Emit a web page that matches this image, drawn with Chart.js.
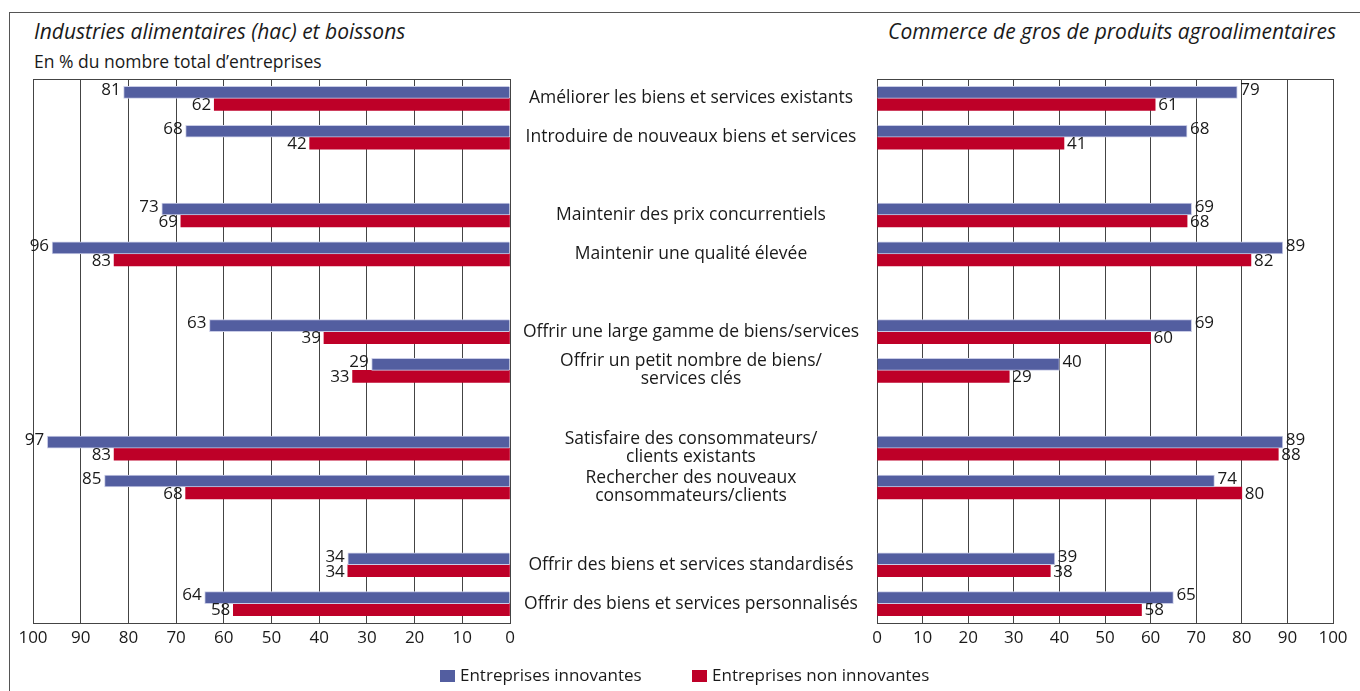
<!DOCTYPE html>
<html>
<head>
<meta charset="utf-8">
<script src="https://cdn.jsdelivr.net/npm/chart.js@4.4.0/dist/chart.umd.min.js"></script>
<style>
  body { margin: 0; width: 1360px; height: 691px; overflow: hidden; background: #fff;
         font-family: "Open Sans", sans-serif; color: #1a1a1a; position: relative; }
  #frame { position: absolute; left: 9px; top: 12px; width: 1400px; height: 700px;
           border-left: 1.5px solid #555; border-top: 1.5px solid #555; }
  .titre { position: absolute; font-style: italic; font-size: 21px; top: 17px; white-space: nowrap; }
  #titreG { left: 34px; }
  #titreD { right: 24px; }
  #unite { position: absolute; left: 34px; top: 49px; font-size: 17.5px; }
  #g, #d { position: absolute; top: 0; height: 691px; }
  #g { left: 0; width: 877px; }
  #d { left: 857px; width: 503px; }
  #legende { position: absolute; top: 663px; left: 440px; font-size: 17px; white-space: nowrap; }
  #legende span.c { display: inline-block; width: 15px; height: 12px; margin-right: 5px; vertical-align: -1px; }
</style>
</head>
<body>
<div id="frame"></div>
<div class="titre" id="titreG">Industries alimentaires (hac) et boissons</div>
<div class="titre" id="titreD">Commerce de gros de produits agroalimentaires</div>
<div id="unite">En % du nombre total d’entreprises</div>
<div id="g"><canvas id="chartG"></canvas></div>
<div id="d"><canvas id="chartD"></canvas></div>
<div id="legende">
  <span class="c" style="background:#535ea0"></span>Entreprises innovantes
  <span class="c" style="background:#be0028;margin-left:46px"></span>Entreprises non innovantes
</div>
<script>
// categories (pairs are separated by an empty slot)
const categories = [
  "Améliorer les biens et services existants",
  "Introduire de nouveaux biens et services",
  "Maintenir des prix concurrentiels",
  "Maintenir une qualité élevée",
  "Offrir une large gamme de biens/services",
  ["Offrir un petit nombre de biens/", "services clés"],
  ["Satisfaire des consommateurs/", "clients existants"],
  ["Rechercher des nouveaux", "consommateurs/clients"],
  "Offrir des biens et services standardisés",
  "Offrir des biens et services personnalisés"
];

const seriesNames = ["Entreprises innovantes", "Entreprises non innovantes"];

// Industries alimentaires (hac) et boissons
const iaaInnovantes    = [81, 68, 73, 96, 63, 29, 97, 85, 34, 64];
const iaaNonInnovantes = [62, 42, 69, 83, 39, 33, 83, 68, 34, 58];

// Commerce de gros de produits agroalimentaires
const cgInnovantes    = [79, 68, 69, 89, 69, 40, 89, 74, 39, 65];
const cgNonInnovantes = [61, 41, 68, 82, 60, 29, 88, 80, 38, 58];

const xTicks = [0, 10, 20, 30, 40, 50, 60, 70, 80, 90, 100];

const BLEU = "#535ea0";
const ROUGE = "#be0028";
const GRILLE = "#444";

Chart.defaults.font.family = '"Open Sans", sans-serif';
Chart.defaults.color = "#1a1a1a";

// insert an empty slot after every pair
function avecEspaces(arr, vide) {
  const out = [];
  arr.forEach((v, i) => {
    out.push(v);
    if (i % 2 === 1 && i < arr.length - 1) out.push(vide);
  });
  return out;
}

const slots = avecEspaces(categories, "");

// value labels at the end of each bar
const etiquettes = {
  id: "etiquettes",
  afterDatasetsDraw(chart, args, opts) {
    const ctx = chart.ctx;
    ctx.save();
    ctx.font = '17px "Open Sans", sans-serif';
    ctx.fillStyle = "#1a1a1a";
    ctx.textBaseline = "middle";
    chart.data.datasets.forEach((ds, di) => {
      const meta = chart.getDatasetMeta(di);
      meta.data.forEach((el, i) => {
        const v = ds.data[i];
        if (v === null || v === undefined) return;
        const dy = di === 0 ? -2 : 1;
        if (opts.gauche) {
          ctx.textAlign = "right";
          ctx.fillText(v, el.x - 3, el.y + dy);
        } else {
          ctx.textAlign = "left";
          ctx.fillText(v, el.x + 3, el.y + dy);
        }
      });
    });
    ctx.restore();
  }
};

// top border of the plot + centred category names
const cadre = {
  id: "cadre",
  afterDraw(chart, args, opts) {
    const ctx = chart.ctx;
    const a = chart.chartArea;
    ctx.save();
    ctx.strokeStyle = GRILLE;
    ctx.lineWidth = 1;
    ctx.beginPath();
    ctx.moveTo(a.left, a.top + 0.5);
    ctx.lineTo(a.right, a.top + 0.5);
    ctx.stroke();
    if (opts.libelles) {
      const y = chart.scales.y;
      ctx.font = '17.5px "Open Sans", sans-serif';
      ctx.fillStyle = "#1a1a1a";
      ctx.textAlign = "center";
      ctx.textBaseline = "middle";
      const cx = a.right + 181;
      chart.data.labels.forEach((lab, i) => {
        if (!lab) return;
        const yc = y.getPixelForValue(i);
        const lignes = Array.isArray(lab) ? lab : [lab];
        const h = 18;
        lignes.forEach((l, k) => {
          ctx.fillText(l, cx, yc + (k - (lignes.length - 1) / 2) * h);
        });
      });
    }
    ctx.restore();
  }
};

function config(innov, nonInnov, gauche) {
  return {
    type: "bar",
    data: {
      labels: slots,
      datasets: [
        { label: seriesNames[0], data: avecEspaces(innov, null), backgroundColor: BLEU,
          borderColor: "#c9cce6", borderWidth: 1, barThickness: 12 },
        { label: seriesNames[1], data: avecEspaces(nonInnov, null), backgroundColor: ROUGE,
          borderWidth: 0, barThickness: 12 }
      ]
    },
    options: {
      indexAxis: "y",
      responsive: true,
      maintainAspectRatio: false,
      animation: false,
      layout: {
        padding: gauche
          ? { left: 33, right: 367, top: 79, bottom: 42 }
          : { left: 20, right: 27, top: 79, bottom: 42 }
      },
      plugins: {
        legend: { display: false },
        tooltip: { enabled: false },
        etiquettes: { gauche: gauche },
        cadre: { libelles: gauche }
      },
      scales: {
        x: {
          type: "linear",
          min: 0,
          max: 100,
          reverse: gauche,
          afterBuildTicks: (s) => { s.ticks = xTicks.map(v => ({ value: v })); },
          afterFit: (s) => { s.height = 26; },
          grid: { color: GRILLE, lineWidth: 1, drawTicks: false },
          border: { color: GRILLE, width: 1 },
          ticks: { padding: 5, font: { size: 17 }, color: "#1a1a1a", maxRotation: 0 }
        },
        y: {
          display: false,
          grid: { display: false }
        }
      }
    },
    plugins: [etiquettes, cadre]
  };
}

new Chart(document.getElementById("chartG"), config(iaaInnovantes, iaaNonInnovantes, true));
new Chart(document.getElementById("chartD"), config(cgInnovantes, cgNonInnovantes, false));
</script>
</body>
</html>
